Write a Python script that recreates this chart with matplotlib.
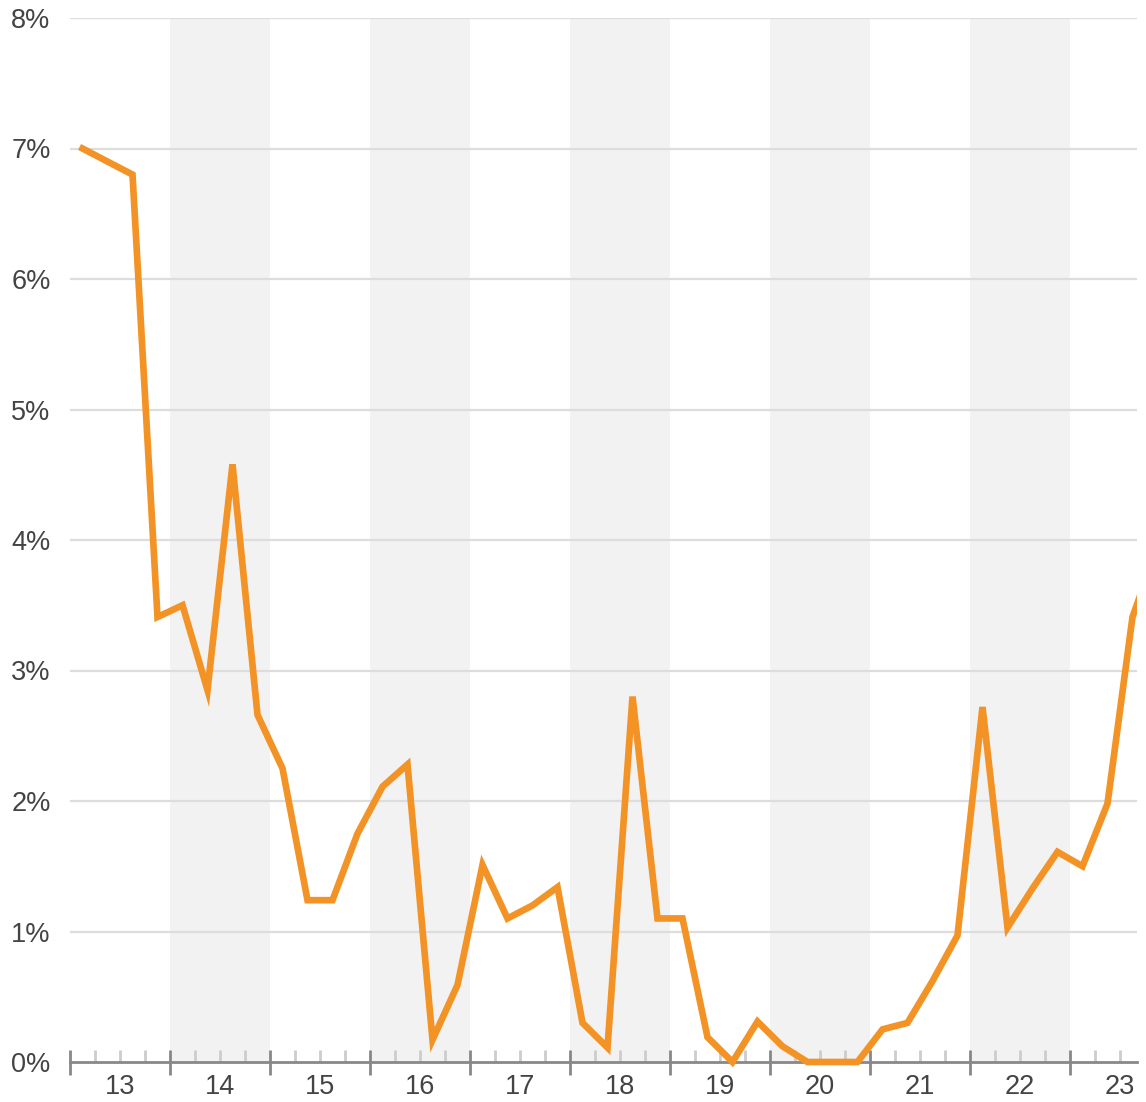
import matplotlib
matplotlib.use("Agg")
import matplotlib.pyplot as plt
from matplotlib.patches import Rectangle
import numpy as np

categories = ["13", "14", "15", "16", "17", "18", "19", "20", "21", "22", "23"]
values = [
    7.00, 6.90, 6.80, 3.41,
    3.50, 2.85, 4.58, 2.66,
    2.25, 1.24, 1.24, 1.75,
    2.11, 2.28, 0.17, 0.59,
    1.51, 1.10, 1.20, 1.34,
    0.30, 0.11, 2.80, 1.10,
    1.10, 0.19, 0.00, 0.31,
    0.12, 0.00, 0.00, 0.00,
    0.25, 0.30, 0.62, 0.97,
    2.72, 1.03, 1.33, 1.61,
    1.50, 1.98, 3.41, 3.95,
]
y_ticks = [0, 1, 2, 3, 4, 5, 6, 7, 8]
y_labels = [f"{v}%" for v in y_ticks]

per_cat = 4
W, H = 1146, 1102
fig = plt.figure(figsize=(W / 100, H / 100), dpi=100)
ax = fig.add_axes([70 / W, 1 - 1062 / H, (1137 - 70) / W, (1062 - 18) / H])

x = np.arange(len(values))
xmin = -0.5
xmax = (1137 - 82.5) / 25.0
ax.set_xlim(xmin, xmax)
ax.set_ylim(0, 8)

# alternating bands
for k in range(len(categories)):
    if k % 2 == 1:
        ax.axvspan(-0.5 + per_cat * k, -0.5 + per_cat * (k + 1), color="#f2f2f2", zorder=0, lw=0)

# gridlines
for v in y_ticks[1:]:
    ax.axhline(v, color="#dddddd", lw=1.6, zorder=1)

line, = ax.plot(x, values, color="#f39325", lw=4.8, zorder=5, solid_joinstyle="miter")
clip = Rectangle((0, -0.02), 1, 1.04, transform=ax.transAxes, visible=False)
ax.add_patch(clip)
line.set_clip_path(clip)

for s in ["top", "right", "left"]:
    ax.spines[s].set_visible(False)
ax.spines["bottom"].set_color("#888888")
ax.spines["bottom"].set_linewidth(2.0)
ax.spines["bottom"].set_zorder(4)

major = [-0.5 + per_cat * k for k in range(len(categories) + 1) if -0.5 + per_cat * k <= xmax]
minor = [m for m in np.arange(-0.5, xmax, 1.0) if m not in major]
ax.set_xticks(major)
ax.set_xticks(minor, minor=True)
ax.set_xticklabels([])
ax.tick_params(axis="x", which="major", direction="inout", length=18, width=2.0, color="#888888")
ax.tick_params(axis="x", which="minor", direction="in", length=8.5, width=2.0, color="#cccccc")

for k, c in enumerate(categories):
    ax.text(1.5 + per_cat * k, -25 / 1044, c, transform=ax.get_xaxis_transform(), ha="center", va="center",
            fontsize=19.5, color="#444444", family="Liberation Sans")

ax.set_yticks(y_ticks)
ax.set_yticklabels(y_labels, fontsize=19.5, color="#444444", family="Liberation Sans")
ax.tick_params(axis="y", length=0, pad=14)

fig.savefig("out.png", dpi=100)
